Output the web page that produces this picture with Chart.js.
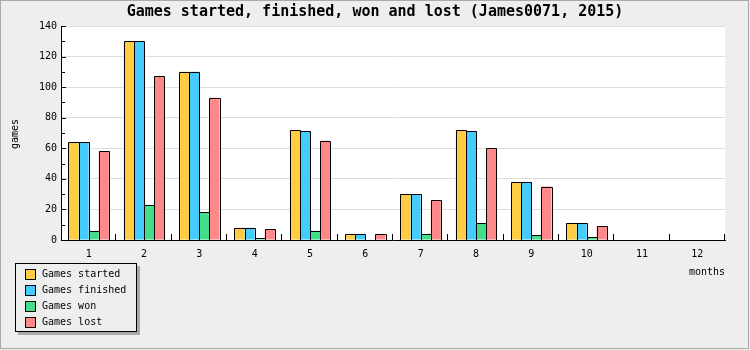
<!DOCTYPE html>
<html lang="en">
<head>
    <script src="https://cdn.jsdelivr.net/npm/chart.js"></script>
    <meta charset="UTF-8">
    <title>Games started, finished, won and lost</title>
    <style>
        body {
            margin: 0;
            padding: 0;
            background-color: #eeeeee;
        }
        #wrap {
            width: 750px;
            height: 350px;
            position: relative;
        }
    </style>
</head>
<body>
    <div id="wrap"><canvas id="gamesChart" width="750" height="350"></canvas></div>

    <script>
        // data
        const months = ['1', '2', '3', '4', '5', '6', '7', '8', '9', '10', '11', '12'];
        const gamesStarted  = [64, 130, 110, 8, 72, 4, 30, 72, 38, 11, 0, 0];
        const gamesFinished = [64, 130, 110, 8, 71, 4, 30, 71, 38, 11, 0, 0];
        const gamesWon      = [6, 23, 18, 1, 6, 0, 4, 11, 3, 2, 0, 0];
        const gamesLost     = [58, 107, 93, 7, 65, 4, 26, 60, 35, 9, 0, 0];
        const yTicks = [0, 20, 40, 60, 80, 100, 120, 140];

        const chartTitle = 'Games started, finished, won and lost (James0071, 2015)';
        const mono = '"DejaVu Sans Mono", "Liberation Mono", monospace';

        // background, plot area, titles, tick marks, bar outlines, legend
        const decorPlugin = {
            id: 'decor',
            beforeDraw(chart) {
                const ctx = chart.ctx;
                const a = chart.chartArea;
                ctx.save();
                ctx.fillStyle = '#eeeeee';
                ctx.fillRect(0, 0, chart.width, chart.height);
                ctx.strokeStyle = '#aaaaaa';
                ctx.lineWidth = 1;
                ctx.strokeRect(0.5, 0.5, chart.width - 2, chart.height - 2);
                ctx.fillStyle = '#ffffff';
                ctx.fillRect(a.left, a.top, a.right - a.left, a.bottom - a.top);
                ctx.restore();
            },
            afterDatasetsDraw(chart) {
                // crisp 1px outlines on the bars, shared edges drawn once
                const ctx = chart.ctx;
                ctx.save();
                ctx.strokeStyle = '#000';
                ctx.lineWidth = 1;
                ctx.beginPath();
                chart.data.datasets.forEach((ds, i) => {
                    chart.getDatasetMeta(i).data.forEach((bar, j) => {
                        if (!ds.data[j]) return;
                        const l = Math.round(bar.x - bar.width / 2) + 0.5;
                        const r = Math.round(bar.x + bar.width / 2) + 0.5;
                        const t = Math.round(bar.y) + 0.5;
                        const b = Math.round(bar.base);
                        ctx.moveTo(l, b);
                        ctx.lineTo(l, t);
                        ctx.lineTo(r, t);
                        ctx.lineTo(r, b);
                    });
                });
                ctx.stroke();
                ctx.restore();
            },
            afterDraw(chart) {
                const ctx = chart.ctx;
                const a = chart.chartArea;
                const x = chart.scales.x;
                const y = chart.scales.y;
                ctx.save();

                // title
                ctx.fillStyle = '#000';
                ctx.font = 'bold 15px ' + mono;
                ctx.textAlign = 'center';
                ctx.textBaseline = 'middle';
                ctx.fillText(chartTitle, 375, 12);

                // axis titles
                ctx.font = '10px ' + mono;
                ctx.textAlign = 'right';
                ctx.fillText('months', 725, 272);
                ctx.save();
                ctx.translate(15, 134);
                ctx.rotate(-Math.PI / 2);
                ctx.textAlign = 'center';
                ctx.fillText('games', 0, 0);
                ctx.restore();

                // tick marks
                ctx.strokeStyle = '#000';
                ctx.lineWidth = 1;
                ctx.beginPath();
                for (let v = 0; v <= 140; v += 10) {
                    const py = Math.round(y.getPixelForValue(v)) + 0.5;
                    ctx.moveTo(a.left, py);
                    ctx.lineTo(a.left + (v % 20 === 0 ? 5 : 4), py);
                }
                const step = (a.right - a.left) / months.length;
                for (let i = 1; i <= months.length; i++) {
                    const px = Math.round(x.getPixelForValue(i - 1) + step / 2) - 0.5;
                    ctx.moveTo(px, a.bottom);
                    ctx.lineTo(px, a.bottom - 6);
                }
                ctx.stroke();

                // legend box
                const lx = 15, ly = 263, lw = 122, lh = 69;
                ctx.fillStyle = '#aaaaaa';
                ctx.fillRect(lx + 3, ly + 3, lw, lh);
                ctx.fillStyle = '#eeeeee';
                ctx.fillRect(lx, ly, lw, lh);
                ctx.strokeRect(lx + 0.5, ly + 0.5, lw - 1, lh - 1);
                ctx.font = '10px ' + mono;
                ctx.textAlign = 'left';
                ctx.textBaseline = 'middle';
                chart.data.datasets.forEach((ds, i) => {
                    const ry = 274 + i * 16;
                    ctx.fillStyle = ds.backgroundColor;
                    ctx.fillRect(25, ry - 5, 10, 10);
                    ctx.strokeRect(25.5, ry - 4.5, 10, 10);
                    ctx.fillStyle = '#000';
                    ctx.fillText(ds.label, 42, ry + 0.5);
                });
                ctx.restore();
            }
        };

        new Chart(document.getElementById('gamesChart'), {
            type: 'bar',
            data: {
                labels: months,
                datasets: [
                    { label: 'Games started', data: gamesStarted, backgroundColor: '#ffcc44' },
                    { label: 'Games finished', data: gamesFinished, backgroundColor: '#44ccff' },
                    { label: 'Games won', data: gamesWon, backgroundColor: '#44dd88' },
                    { label: 'Games lost', data: gamesLost, backgroundColor: '#ff8888' }
                ]
            },
            options: {
                responsive: false,
                animation: false,
                layout: { padding: { left: 0, right: 25, top: 26, bottom: 0 } },
                datasets: {
                    bar: {
                        borderWidth: 0,
                        categoryPercentage: 0.73,
                        barPercentage: 1
                    }
                },
                plugins: {
                    legend: { display: false },
                    title: { display: false },
                    tooltip: { enabled: false }
                },
                scales: {
                    x: {
                        afterFit: (s) => { s.height = 110; },
                        grid: { display: false, drawTicks: false },
                        border: { display: true, color: '#000', width: 1 },
                        ticks: {
                            color: '#000',
                            font: { family: mono, size: 10 },
                            padding: 8,
                            maxRotation: 0
                        }
                    },
                    y: {
                        min: 0,
                        max: 140,
                        afterFit: (s) => { s.width = 61; },
                        afterBuildTicks: (s) => { s.ticks = yTicks.map(v => ({ value: v })); },
                        grid: { color: '#dddddd', drawTicks: false },
                        border: { display: true, color: '#000', width: 1 },
                        ticks: {
                            color: '#000',
                            font: { family: mono, size: 10 },
                            padding: 4
                        }
                    }
                }
            },
            plugins: [decorPlugin]
        });
    </script>
</body>
</html>
